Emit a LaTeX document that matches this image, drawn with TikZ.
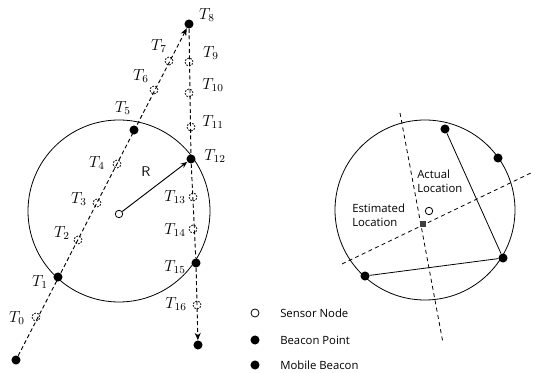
\documentclass[tikz,border=0pt]{standalone}
\usepackage{fontspec}
\newfontfamily\legendfont{Open Sans}
\usetikzlibrary{arrows.meta}

\begin{document}
\begin{tikzpicture}[x=0.75pt,y=-0.75pt,
    beacon/.style={circle, fill=black, inner sep=0pt, minimum size=6.8pt},
    track/.style={circle, draw, dash pattern=on 1.3pt off 1pt, line width=0.6pt, inner sep=0pt, minimum size=6pt},
    sensor/.style={circle, draw, fill=white, line width=0.6pt, inner sep=0pt, minimum size=5.6pt},
    estim/.style={rectangle, fill=black!75, inner sep=0pt, minimum size=5.2pt},
    tlabel/.style={font=\fontsize{12}{14}\selectfont, inner sep=0pt},
    txt/.style={font=\legendfont\fontsize{8.5}{10.5}\selectfont, align=left, inner sep=0pt},
    moveline/.style={dash pattern=on 3pt off 2pt, line width=0.7pt, -{Stealth[length=5.5pt,width=4.5pt]}},
    bisect/.style={dash pattern=on 3pt off 2.5pt, line width=0.6pt}
  ]
  \useasboundingbox (0,0) rectangle (539,373);

  % left: mobile beacon trajectory
  \draw[line width=0.6pt] (119,211) circle (91);
  \node[sensor] (sn) at (119,214) {};

  \node[beacon] (start) at (16,360) {};
  \node[beacon] (t1) at (58,277) {};
  \node[beacon] (t5) at (134,130) {};
  \node[beacon] (t8) at (189,24) {};
  \node[beacon] (t12) at (191,159) {};
  \node[beacon] (t15) at (196,263) {};
  \node[beacon] (stop) at (198,345) {};

  \node[track] (t0) at (36,317) {};
  \node[track] (t2) at (78,240) {};
  \node[track] (t3) at (97,203) {};
  \node[track] (t4) at (117,164) {};
  \node[track] (t6) at (154,90) {};
  \node[track] (t7) at (169,61) {};
  \node[track] (t9) at (189,62) {};
  \node[track] (t10) at (189,93) {};
  \node[track] (t11) at (191,127) {};
  \node[track] (t13) at (193,197) {};
  \node[track] (t14) at (193,229) {};
  \node[track] (t16) at (197,305) {};

  \draw[moveline] (start) -- (t8);
  \draw[moveline] (t8) -- (t12) -- (t15) -- (stop);
  \draw[-{Stealth[length=5pt,width=4pt]}, line width=0.7pt] (sn) -- (t12);
  \node[font=\sffamily\fontsize{10.5}{12}\selectfont] (rlab) at (146,172) {R};

  \node[tlabel] (l0) at (17,318) {$T_0$};
  \node[tlabel] (l1) at (40,282) {$T_1$};
  \node[tlabel] (l2) at (62,233) {$T_2$};
  \node[tlabel] (l3) at (79,199) {$T_3$};
  \node[tlabel] (l4) at (97,163) {$T_4$};
  \node[tlabel] (l5) at (123,108) {$T_5$};
  \node[tlabel] (l6) at (141,76) {$T_6$};
  \node[tlabel] (l7) at (159,46) {$T_7$};
  \node[tlabel] (l8) at (207,15) {$T_8$};
  \node[tlabel] (l9) at (211,53) {$T_9$};
  \node[tlabel] (l10) at (213,85) {$T_{10}$};
  \node[tlabel] (l11) at (213,122) {$T_{11}$};
  \node[tlabel] (l12) at (215,156) {$T_{12}$};
  \node[tlabel] (l13) at (175,197) {$T_{13}$};
  \node[tlabel] (l14) at (175,230) {$T_{14}$};
  \node[tlabel] (l15) at (175,267) {$T_{15}$};
  \node[tlabel] (l16) at (176,304) {$T_{16}$};

  % right: estimation from beacon points
  \draw[line width=0.6pt] (425,210) circle (90);
  \node[beacon] (b1) at (445,129) {};
  \node[beacon] (b2) at (498,158) {};
  \node[beacon] (b3) at (503,258) {};
  \node[beacon] (b4) at (365,276) {};
  \draw[line width=0.6pt] (b1) -- (b3) -- (b4);

  \coordinate (p1) at (400,113);
  \coordinate (p2) at (443,343);
  \coordinate (q1) at (342,264);
  \coordinate (q2) at (533,172);
  \draw[bisect] (p1) -- (p2);
  \draw[bisect] (q1) -- (q2);

  \node[estim] (est) at (423,224) {};
  \node[sensor] (act) at (429,211) {};
  \node[txt, anchor=west] (actlab) at (417,181) {Actual\\Location};
  \node[txt, anchor=west] (estlab) at (352,215) {Estimated\\Location};

  % legend
  \node[sensor, minimum size=6pt] (k1) at (255,313) {};
  \node[beacon] (k2) at (255,340) {};
  \node[beacon] (k3) at (255,365) {};
  \node[txt, anchor=west] (k1t) at (280,313) {Sensor Node};
  \node[txt, anchor=west] (k2t) at (280,340) {Beacon Point};
  \node[txt, anchor=west] (k3t) at (280,365) {Mobile Beacon};
\end{tikzpicture}
\end{document}
